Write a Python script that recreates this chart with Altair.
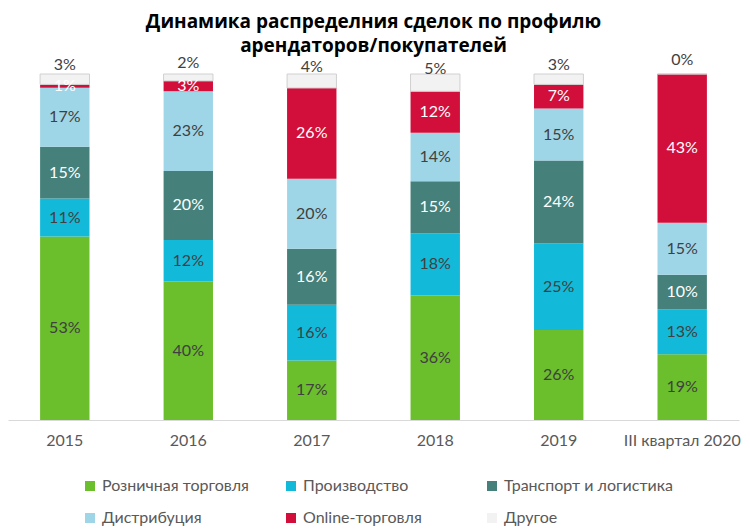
import altair as alt
import pandas as pd

years = ["2015", "2016", "2017", "2018", "2019", "III квартал 2020"]
categories = ["Розничная торговля", "Производство", "Транспорт и логистика",
              "Дистрибуция", "Online-торговля", "Другое"]
retail = [53, 40, 17, 36, 26, 19]
production = [11, 12, 16, 18, 25, 13]
transport = [15, 20, 16, 15, 24, 10]
distribution = [17, 23, 20, 14, 15, 15]
online = [1, 3, 26, 12, 7, 43]
other = [3, 2, 4, 5, 3, 0]
colors = ["#6BBE2C", "#13B9D9", "#45807A", "#9FD6E7", "#D20E3B", "#F2F2F2"]

series = [retail, production, transport, distribution, online, other]
rows = []
for ci, (cat, vals) in enumerate(zip(categories, series)):
    for yr, v in zip(years, vals):
        rows.append({"year": yr, "cat": cat, "ord": ci, "val": v})
df = pd.DataFrame(rows)

font = "Lato"

base = alt.Chart(df).transform_stack(
    as_=["y0", "y1"], stack="val", groupby=["year"],
    offset="normalize", sort=[alt.SortField("ord")]
).transform_calculate(
    mid="(datum.y0 + datum.y1) / 2",
    lbl="datum.val + '%'",
    lc="(datum.cat == 'Транспорт и логистика' || datum.cat == 'Online-торговля') ? 'white' : '#404040'"
)

x = alt.X("year:N", sort=years,
          scale=alt.Scale(paddingInner=0.6, paddingOuter=0.26),
          axis=alt.Axis(title=None, labelAngle=0, labelFontSize=16, labelColor="#595959",
                        labelFont=font, ticks=False, domainColor="#d9d9d9", labelPadding=12))
yscale = alt.Scale(domain=[0, 1])

bars = base.mark_bar(strokeWidth=1).encode(
    x=x,
    y=alt.Y("y0:Q", scale=yscale, axis=None),
    y2="y1:Q",
    color=alt.Color("cat:N", sort=categories,
                    scale=alt.Scale(domain=categories, range=colors),
                    legend=alt.Legend(title=None, orient="none", legendX=74, legendY=404,
                                      direction="horizontal", columns=3, gridAlign="all",
                                      symbolType="square", symbolSize=100,
                                      labelFontSize=16, labelColor="#595959", labelFont=font,
                                      labelLimit=300, columnPadding=12, rowPadding=16,
                                      symbolStrokeWidth=0)),
    stroke=alt.condition("datum.cat == 'Другое'", alt.value("#d0d0d0"), alt.value("transparent")),
)

inside = base.transform_filter("datum.cat != 'Другое' && datum.val > 0").mark_text(
    fontSize=16, font=font, baseline="middle"
).encode(
    x=alt.X("year:N", sort=years),
    y=alt.Y("mid:Q", scale=yscale),
    text="lbl:N",
    color=alt.Color("lc:N", scale=None),
)

top = base.transform_filter("datum.cat == 'Другое'").mark_text(
    fontSize=16, font=font, baseline="middle", dy=-14, color="#404040"
).encode(
    x=alt.X("year:N", sort=years),
    y=alt.Y("mid:Q", scale=yscale),
    text="lbl:N",
)

chart = alt.layer(bars, inside, top).properties(
    width=731, height=346, padding={"top": 5, "left": 0, "right": 0, "bottom": 0},
    title=alt.TitleParams(
        ["Динамика распределния сделок по профилю", "арендаторов/покупателей"],
        fontSize=19, font="Open Sans", fontWeight="bold", color="#000000",
        lineHeight=24, offset=-4, anchor="middle"),
).configure_view(stroke=None)

chart.save("out.html", embed_options={"renderer": "svg", "actions": False})
